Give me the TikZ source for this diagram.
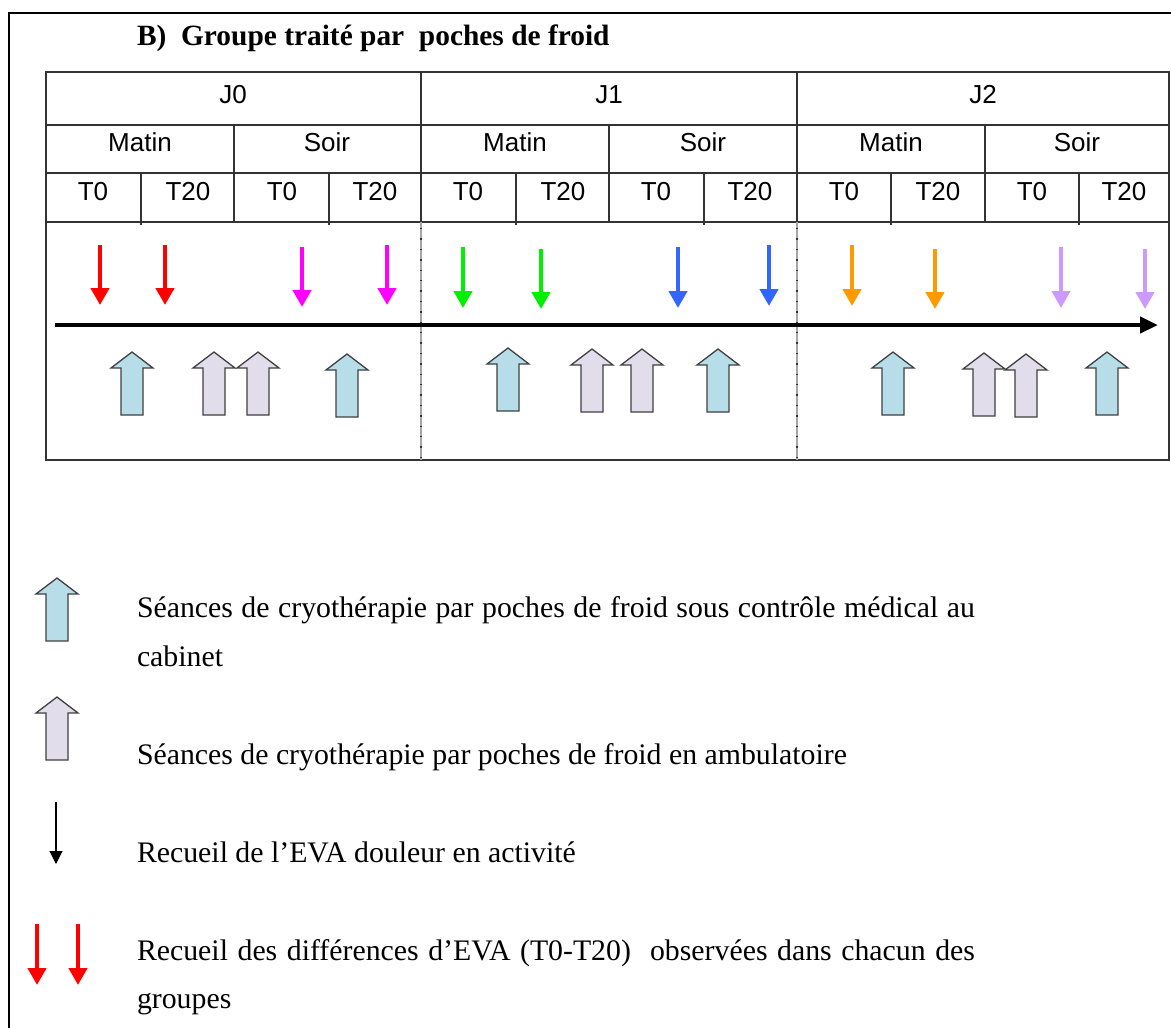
\documentclass[tikz,border=0pt]{standalone}
\usepackage{fontspec}
\setmainfont{Liberation Serif}
\newfontfamily\tablefont{Liberation Sans}
\usetikzlibrary{arrows.meta}

\definecolor{gridColor}{RGB}{51,51,51}
\definecolor{cabinetFill}{RGB}{183,221,232}
\definecolor{ambuFill}{RGB}{225,221,234}
\definecolor{outlineColor}{RGB}{64,64,64}
\definecolor{evaRed}{RGB}{255,0,0}
\definecolor{evaMagenta}{RGB}{255,0,255}
\definecolor{evaGreen}{RGB}{0,240,0}
\definecolor{evaBlue}{RGB}{51,102,255}
\definecolor{evaOrange}{RGB}{255,153,0}
\definecolor{evaLilac}{RGB}{204,153,255}

\tikzset{
  grid line/.style={draw=gridColor,line width=1.4pt},
  day sep/.style={draw=black!35,line width=2.6pt},
  day dots/.style={draw=black!80,line width=1.4pt,dash pattern=on 1.4pt off 9pt},
  cell text/.style={text=black,anchor=base,inner sep=0pt,outer sep=0pt,font=\tablefont\fontsize{26}{30}\selectfont},
  title text/.style={anchor=base west,inner sep=0pt,outer sep=0pt,font=\fontsize{29.4}{34}\selectfont\bfseries},
  legend text/.style={anchor=base west,inner sep=0pt,outer sep=0pt,font=\fontsize{29.8}{48}\selectfont},
  eva arrow/.style={line width=4.5pt,-{Triangle[length=17pt,width=18pt]}},
  time arrow/.style={line width=4.5pt,-{Triangle[length=18pt,width=16pt]}},
  thin arrow/.style={line width=1.1pt,-{Triangle[length=13pt,width=13pt]}},
  block up/.pic={
    \path[pic actions,line width=1.3pt,draw=outlineColor,line join=miter]
      (-11,0) -- (-11,-47) -- (-21,-47) -- (0,-63) -- (21,-47) -- (11,-47) -- (11,0) -- cycle;
  },
  cabinet/.style={fill=cabinetFill},
  ambu/.style={fill=ambuFill}
}

\begin{document}
\begin{tikzpicture}[x=1pt,y=-1pt]
\path[use as bounding box,fill=white] (0,0) rectangle (1171,1028);

% cadre
\path[draw=black,line width=2.4pt] (9,1028) -- (9,13) -- (1171,13);

\node[title text] (titre) at (137,45) {B)\ \ Groupe traité par\ \ poches de froid};

% tableau
\path[grid line] (46,72) rectangle (1169,460);
\path[grid line] (46,125) -- (1169,125);
\path[grid line] (46,173) -- (1169,173);
\path[grid line] (46,222) -- (1169,222);

\path[grid line] (421,72) -- (421,222);
\path[grid line] (797,72) -- (797,222);

\path[grid line] (234,125) -- (234,222);
\path[grid line] (609,125) -- (609,222);
\path[grid line] (985,125) -- (985,222);

\path[grid line] (141,173) -- (141,225);
\path[grid line] (329,173) -- (329,225);
\path[grid line] (516,173) -- (516,225);
\path[grid line] (704,173) -- (704,225);
\path[grid line] (891,173) -- (891,225);
\path[grid line] (1079,173) -- (1079,225);

\path[day sep] (421,222) -- (421,460);
\path[day dots] (421,228) -- (421,460);
\path[day sep] (797,222) -- (797,460);
\path[day dots] (797,228) -- (797,460);

\node[cell text] (j0) at (233,103) {J0};
\node[cell text] (j1) at (609,103) {J1};
\node[cell text] (j2) at (983,103) {J2};

\node[cell text] (matin0) at (140,151) {Matin};
\node[cell text] (soir0) at (327,151) {Soir};
\node[cell text] (matin1) at (515,151) {Matin};
\node[cell text] (soir1) at (703,151) {Soir};
\node[cell text] (matin2) at (891,151) {Matin};
\node[cell text] (soir2) at (1077,151) {Soir};

\node[cell text] (t0a) at (93,200) {T0};
\node[cell text] (t20a) at (188,200) {T20};
\node[cell text] (t0b) at (282,200) {T0};
\node[cell text] (t20b) at (375,200) {T20};
\node[cell text] (t0c) at (468,200) {T0};
\node[cell text] (t20c) at (563,200) {T20};
\node[cell text] (t0d) at (656,200) {T0};
\node[cell text] (t20d) at (750,200) {T20};
\node[cell text] (t0e) at (844,200) {T0};
\node[cell text] (t20e) at (938,200) {T20};
\node[cell text] (t0f) at (1032,200) {T0};
\node[cell text] (t20f) at (1124,200) {T20};

% axe du temps
\draw[time arrow] (55,325) -- (1158,325);

% recueils EVA
\draw[eva arrow,evaRed] (100,245) -- (100,305);
\draw[eva arrow,evaRed] (165,245) -- (165,305);
\draw[eva arrow,evaMagenta] (302,247) -- (302,307);
\draw[eva arrow,evaMagenta] (387,245) -- (387,305);
\draw[eva arrow,evaGreen] (463,247) -- (463,308);
\draw[eva arrow,evaGreen] (541,249) -- (541,309);
\draw[eva arrow,evaBlue] (678,247) -- (678,308);
\draw[eva arrow,evaBlue] (769,245) -- (769,306);
\draw[eva arrow,evaOrange] (852,245) -- (852,306);
\draw[eva arrow,evaOrange] (935,249) -- (935,309);
\draw[eva arrow,evaLilac] (1061,247) -- (1061,308);
\draw[eva arrow,evaLilac] (1145,249) -- (1145,309);

% seances de froid
\pic[cabinet] at (132,415) {block up};
\pic[ambu] at (214,415) {block up};
\pic[ambu] at (258,415) {block up};
\pic[cabinet] at (347,417) {block up};
\pic[cabinet] at (508,411) {block up};
\pic[ambu] at (592,412) {block up};
\pic[ambu] at (642,412) {block up};
\pic[cabinet] at (718,412) {block up};
\pic[cabinet] at (893,415) {block up};
\pic[ambu] at (984,416) {block up};
\pic[ambu] at (1026,417) {block up};
\pic[cabinet] at (1107,415) {block up};

% legende
\pic[cabinet] at (57,641) {block up};
\pic[ambu] at (57,760) {block up};
\draw[thin arrow] (56,802) -- (56,864);
\draw[eva arrow,evaRed] (37,924) -- (37,985);
\draw[eva arrow,evaRed] (78,924) -- (78,985);

\node[legend text] (leg1) at (137,617) {\makebox[838pt][s]{Séances de cryothérapie par poches de froid sous contrôle médical au}};
\node[legend text] (leg1b) at (137,666) {cabinet};
\node[legend text] (leg2) at (137,764) {Séances de cryothérapie par poches de froid en ambulatoire};
\node[legend text] (leg3) at (137,862) {Recueil de l’EVA douleur en activité};
\node[legend text] (leg4) at (137,960) {\makebox[838pt][s]{Recueil des différences d’EVA (T0-T20)\ \ observées dans chacun des}};
\node[legend text] (leg4b) at (137,1008) {groupes};
\end{tikzpicture}
\end{document}
